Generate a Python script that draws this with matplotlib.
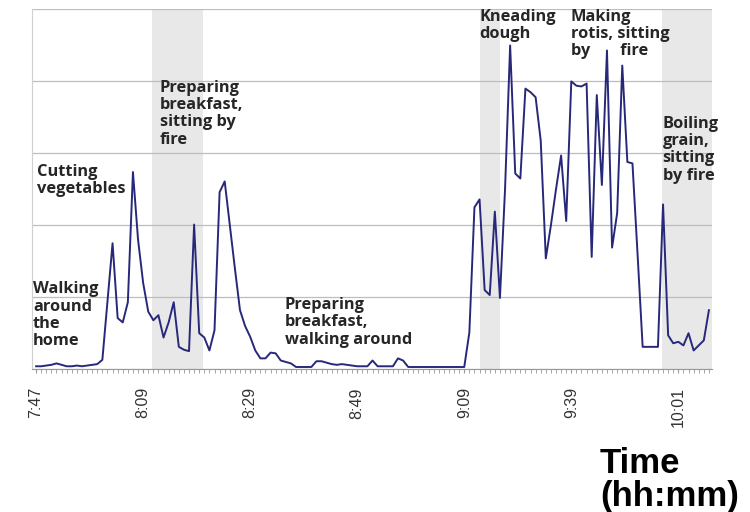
import numpy as np
import matplotlib.pyplot as plt

# activity intensity, one reading per sample
values = [0.04, 0.04, 0.05, 0.06, 0.08, 0.06, 0.04, 0.04, 0.05, 0.04,
          0.05, 0.06, 0.07, 0.13, 0.94, 1.75, 0.71, 0.65, 0.93, 2.74,
          1.80, 1.20, 0.80, 0.68, 0.75, 0.44, 0.65, 0.93, 0.31, 0.27,
          0.25, 2.01, 0.50, 0.44, 0.26, 0.54, 2.46, 2.61, 2.00, 1.40,
          0.82, 0.60, 0.45, 0.26, 0.15, 0.15, 0.23, 0.22, 0.12, 0.10,
          0.08, 0.03, 0.03, 0.03, 0.03, 0.11, 0.11, 0.09, 0.07, 0.06,
          0.07, 0.06, 0.05, 0.04, 0.04, 0.04, 0.12, 0.04, 0.04, 0.04,
          0.04, 0.15, 0.12, 0.03, 0.03, 0.03, 0.03, 0.03, 0.03, 0.03,
          0.03, 0.03, 0.03, 0.03, 0.03, 0.51, 2.25, 2.36, 1.10, 1.03,
          2.19, 0.99, 2.50, 4.50, 2.72, 2.65, 3.90, 3.85, 3.78, 3.18,
          1.54, 2.00, 2.50, 2.97, 2.06, 4.00, 3.94, 3.93, 3.97, 1.56,
          3.81, 2.56, 4.43, 1.69, 2.17, 4.22, 2.88, 2.86, 1.60, 0.31,
          0.31, 0.31, 0.31, 2.29, 0.47, 0.36, 0.38, 0.33, 0.50, 0.26,
          0.33, 0.40, 0.82]

tick_pos = [0, 21, 42, 63, 84, 105, 126]
tick_labels = ['7:47', '8:09', '8:29', '8:49', '9:09', '9:39', '10:01']

# shaded activity periods (sample index start, end)
bands = [(22.7, 32.7), (87.1, 91.0), (122.7, 132.6)]

notes = [
    (-0.6, 1.22, 'Walking\naround\nthe\nhome'),
    (0.1, 2.85, 'Cutting\nvegetables'),
    (24.3, 4.02, 'Preparing\nbreakfast,\nsitting by\nfire'),
    (48.8, 1.0, 'Preparing\nbreakfast,\nwalking around'),
    (86.9, 5.01, 'Kneading\ndough'),
    (104.9, 5.01, 'Making\nrotis, sitting\nby       fire'),
    (122.9, 3.52, 'Boiling\ngrain,\nsitting\nby fire'),
]

x = np.arange(len(values))

fig = plt.figure(figsize=(7.5, 5.12), dpi=100)
ax = fig.add_axes([0.0427, 0.279, 0.9066, 0.7025])

for a, b in bands:
    ax.axvspan(a, b, color='#e8e8e8', lw=0, zorder=0)

ax.plot(x, values, color='#28287a', lw=1.4, zorder=3)

ax.set_xlim(-0.8, 132.6)
ax.set_ylim(0, 5)
ax.set_yticks([0, 1, 2, 3, 4, 5])
ax.yaxis.grid(True, color='#bdbdbd', lw=0.9)
ax.set_axisbelow(True)
ax.tick_params(axis='y', left=False, labelleft=False)

ax.set_xticks(tick_pos)
ax.set_xticklabels(tick_labels, rotation=90, fontsize=11.5,
                   family='Liberation Sans', color='#333333')
ax.set_xticks(x, minor=True)
ax.tick_params(axis='x', which='both', direction='out', length=3,
               color='#999999', pad=10)

for s in ['top', 'right']:
    ax.spines[s].set_visible(False)
ax.spines['left'].set_color('#d0d0d0')
ax.spines['bottom'].set_color('#999999')

for tx, ty, t in notes:
    ax.text(tx, ty, t, ha='left', va='top', fontsize=11.8,
            fontweight='bold', family='Open Sans', color='#262626',
            linespacing=1.1, zorder=4)

fig.text(0.8, 0.127, 'Time\n(hh:mm)', ha='left', va='top', fontsize=25,
         fontweight='bold', family='Liberation Sans', color='black',
         linespacing=1.0)

fig.savefig('out.png', dpi=100)
